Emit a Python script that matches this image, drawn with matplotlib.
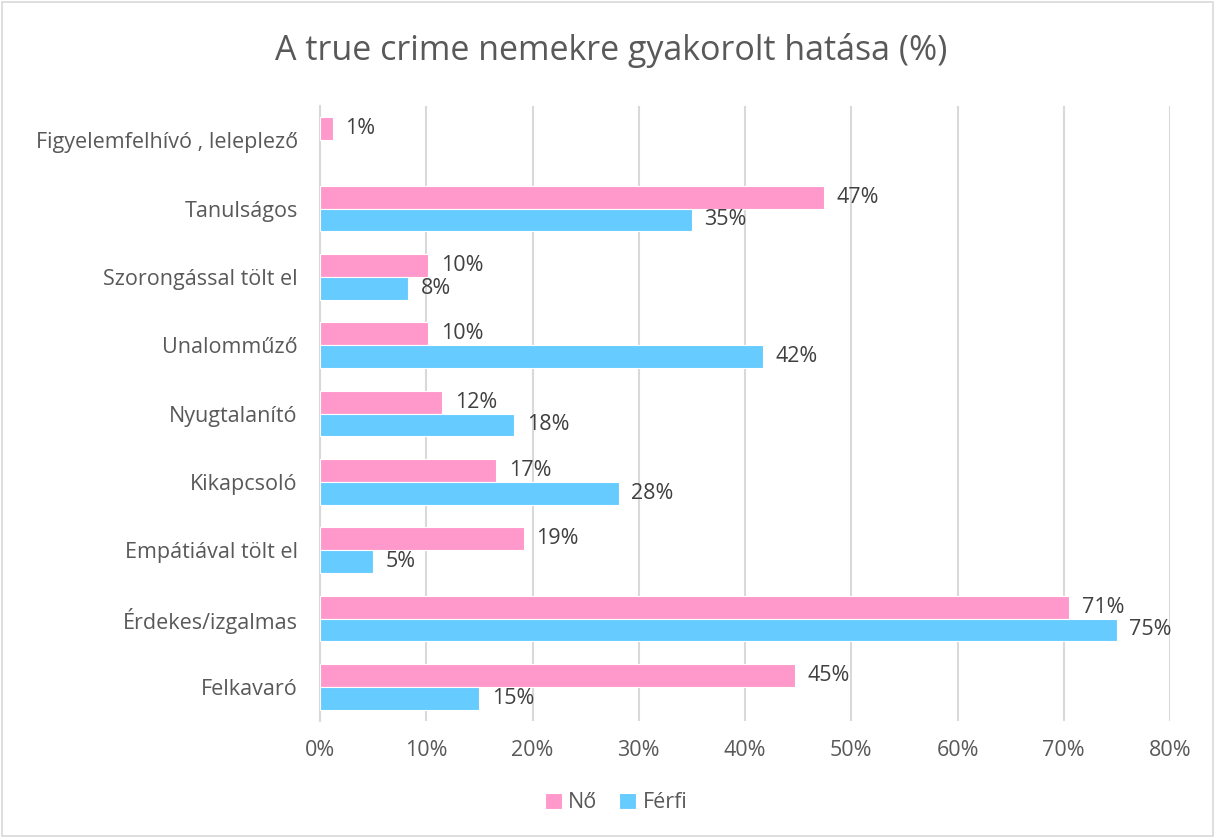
import numpy as np
import matplotlib
matplotlib.use("Agg")
import matplotlib.pyplot as plt
from matplotlib.patches import Rectangle

plt.rcParams['font.family'] = ['Open Sans', 'DejaVu Sans']

categories = ["Felkavaró", "Érdekes/izgalmas", "Empátiával tölt el", "Kikapcsoló",
              "Nyugtalanító", "Unalomműző", "Szorongással tölt el", "Tanulságos",
              "Figyelemfelhívó , leleplező"]
no_vals = [44.7, 70.5, 19.2, 16.6, 11.5, 10.2, 10.2, 47.4, 1.2]
ferfi_vals = [15.0, 75.0, 5.0, 28.1, 18.3, 41.7, 8.3, 35.0, np.nan]
no_labels = ["45%", "71%", "19%", "17%", "12%", "10%", "10%", "47%", "1%"]
ferfi_labels = ["15%", "75%", "5%", "28%", "18%", "42%", "8%", "35%", ""]
xticks = [0, 10, 20, 30, 40, 50, 60, 70, 80]

pink = "#FF99CC"
blue = "#66CCFF"
txt = "#595959"
fs = 15.5

fig = plt.figure(figsize=(12.15, 8.38), dpi=100)
ax = fig.add_axes([0.2634, 0.1396, 0.6996, 0.7339])

y = np.arange(len(categories))
h = 0.336
ax.barh(y + h / 2, no_vals, height=h, color=pink, edgecolor="white", linewidth=0.8, label="Nő", zorder=3)
mask = ~np.isnan(ferfi_vals)
ax.barh(y[mask] - h / 2, np.array(ferfi_vals)[mask], height=h, color=blue, edgecolor="white",
        linewidth=0.8, label="Férfi", zorder=3)

for i in range(len(categories)):
    ax.annotate(no_labels[i], (no_vals[i], y[i] + h / 2), xytext=(9, 0), textcoords="offset points",
                va="center", ha="left", fontsize=fs, color="#404040")
    if ferfi_labels[i]:
        ax.annotate(ferfi_labels[i], (ferfi_vals[i], y[i] - h / 2), xytext=(9, 0), textcoords="offset points",
                    va="center", ha="left", fontsize=fs, color="#404040")

ax.set_xlim(0, 80)
ax.set_ylim(-0.5, len(categories) - 0.5)
ax.set_xticks(xticks)
ax.set_xticklabels([f"{t}%" for t in xticks])
ax.set_yticks(y)
ax.set_yticklabels(categories)
ax.tick_params(axis="both", length=0, labelsize=fs, labelcolor=txt)
ax.tick_params(axis="x", pad=14)
ax.tick_params(axis="y", pad=16)
ax.grid(axis="x", color="#D9D9D9", linewidth=1.5, zorder=0)
for s in ["top", "right", "bottom"]:
    ax.spines[s].set_visible(False)
ax.spines["left"].set_color("#D9D9D9")
ax.spines["left"].set_linewidth(1.5)

fig.text(0.503, 0.94, "A true crime nemekre gyakorolt hatása (%)", ha="center", va="center",
         fontsize=24.5, color=txt)

fig.legend(loc="center", bbox_to_anchor=(0.507, 0.042), ncol=2, frameon=False, fontsize=fs,
           handlelength=0.8, handleheight=0.8, handletextpad=0.3, columnspacing=1.0, labelcolor=txt)

fig.patches.append(Rectangle((0.002, 0.002), 0.996, 0.996, transform=fig.transFigure,
                             fill=False, edgecolor="#D9D9D9", linewidth=1.2))

fig.savefig("out.png", dpi=100)
